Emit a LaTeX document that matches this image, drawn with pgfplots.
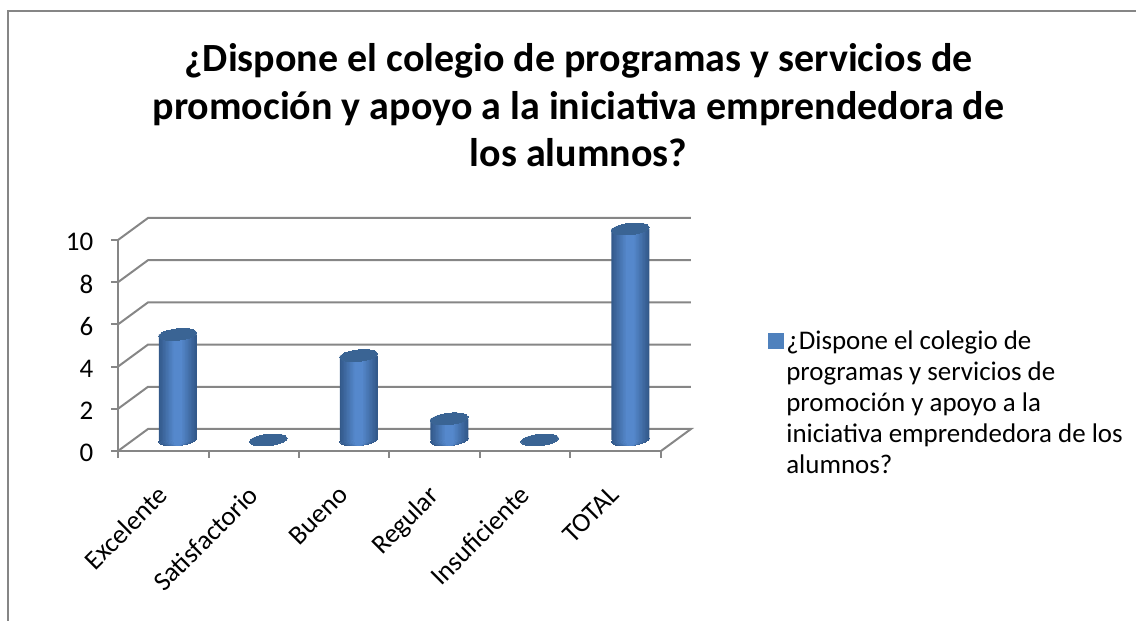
\documentclass[border=0pt]{standalone}
\usepackage{fontspec}
\setmainfont{Carlito}
\usepackage{pgfplots}
\usepackage{pgfplotstable}
\pgfplotsset{compat=1.18}
\definecolor{wallgray}{HTML}{868686}
\definecolor{barmid}{HTML}{5588CC}
\definecolor{baredge}{HTML}{33598A}
\definecolor{bartop}{HTML}{3A6494}
\definecolor{swatch}{HTML}{4F81BD}
\pgfplotstableread{
x v
0.5 5
1.5 0
2.5 4
3.5 1
4.5 0
5.5 10
}\answers
\pgfplotstableread{
x v
0.5 0
2.5 0
3.5 0
5.5 0
}\bases
\begin{document}
\begin{tikzpicture}
\useasboundingbox (0,0) rectangle (852pt,465.75pt);
% frame, cut off on the right and at the bottom
\draw[wallgray,line width=1.6pt] (6pt,0pt) -- (6pt,457.5pt) -- (852pt,457.5pt);
% front plane: ticks, labels, walls
\begin{axis}[
    at={(88.5pt,127.5pt)}, anchor=south west,
    scale only axis, width=407.25pt, height=158.25pt,
    xmin=0, xmax=6, ymin=0, ymax=10,
    clip=false,
    axis x line=bottom, axis y line=left,
    axis line style={wallgray,line width=1.5pt,-},
    tick style={wallgray,line width=1.5pt},
    tick align=outside, major tick length=5pt,
    xtick={0,...,6},
    xticklabels={Excelente,Satisfactorio,Bueno,Regular,Insuficiente,TOTAL},
    x tick label as interval=true,
    xticklabel style={rotate=45,anchor=north east,font=\fontsize{20.2}{24}\selectfont,inner sep=2pt,xshift=-15.7pt,yshift=-7.9pt},
    ytick={0,2,...,10},
    yticklabel style={font=\fontsize{20.2}{24}\selectfont,xshift=-10pt,yshift=-1.5pt},
    /pgf/number format/assume math mode=true,
    unbounded coords=jump,
    title={¿Dispone el colegio de programas y servicios de\\promoción y apoyo a la iniciativa emprendedora de\\los alumnos?},
    title style={at={(0.848,1.915)},anchor=north,align=center,
        font=\fontsize{30}{35.6}\selectfont\bfseries},
]
\addplot[wallgray,line width=1.5pt,forget plot] coordinates {
    (0,0) (0.3315,1.043) (6.3315,1.043) (6,0) (nan,nan)
    (0,2) (0.3315,3.043) (6.3315,3.043) (nan,nan)
    (0,4) (0.3315,5.043) (6.3315,5.043) (nan,nan)
    (0,6) (0.3315,7.043) (6.3315,7.043) (nan,nan)
    (0,8) (0.3315,9.043) (6.3315,9.043) (nan,nan)
    (0,10) (0.3315,11.043) (6.3315,11.043)
};
\end{axis}
% middle plane: the columns
\begin{axis}[
    at={(99.375pt,135.75pt)}, anchor=south west,
    scale only axis, width=407.25pt, height=158.25pt,
    xmin=0, xmax=6, ymin=0, ymax=10,
    clip=false, clip mode=individual, axis lines=none,
    legend style={at={(1.1695,0.531)},anchor=north west,draw=none,fill=none,inner sep=0pt,
        font=\fontsize{20.2}{23.2}\selectfont,
        cells={align=left}},
    legend cell align=left,
]
% nested base ellipses and bars give the round shading of the columns
\pgfplotsinvokeforeach{0,10,...,100}{
\addplot[only marks,mark=*,mark size={14.25pt*(1-#1/130)},forget plot,
    mark options={draw=barmid!#1!baredge,fill=barmid!#1!baredge,line width=0pt,rotate=6,yscale={0.3/(1-#1/130)}}]
    table[x=x,y=v] {\bases};
}
\pgfplotsinvokeforeach{0,10,...,100}{
\addplot[ybar,bar width={28.5pt*(1-#1/130)},draw=none,fill=barmid!#1!baredge,
    restrict y to domain=0.5:11,forget plot]
    table[x=x,y=v] {\answers};
}
\addplot[only marks,mark=*,mark size=14.25pt,
    mark options={draw=bartop,fill=bartop,line width=0pt,rotate=6,yscale=0.3},
    legend image code/.code={\fill[swatch] (0pt,41pt) rectangle (11.5pt,52.5pt);}]
    table[x=x,y=v] {\answers};
\legend{¿Dispone el colegio de\\programas y servicios de\\promoción y apoyo a la\\iniciativa emprendedora de los\\alumnos?}
\end{axis}
\end{tikzpicture}
\end{document}
